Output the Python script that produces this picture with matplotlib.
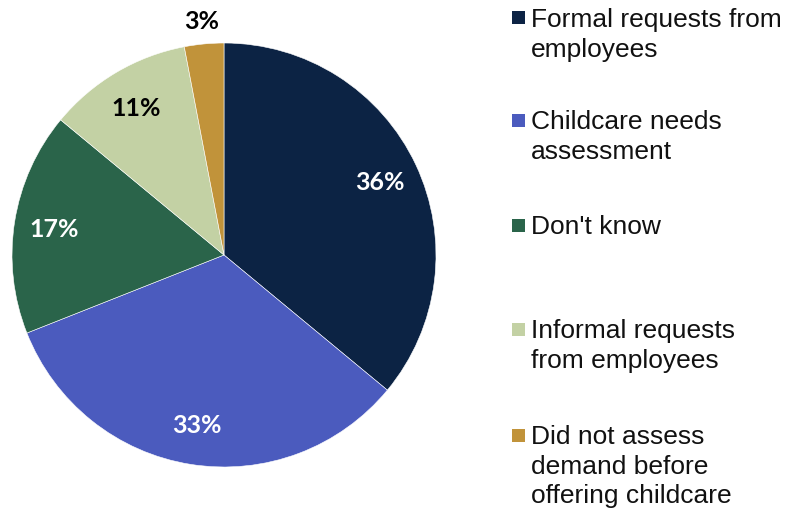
import matplotlib
matplotlib.use("Agg")
import matplotlib.pyplot as plt
import numpy as np
from matplotlib.patches import Rectangle

# ── data ────────────────────────────────────────────────────────────
categories = [
    "Formal requests from\nemployees",
    "Childcare needs\nassessment",
    "Don't know",
    "Informal requests\nfrom employees",
    "Did not assess\ndemand before\noffering childcare",
]
shares = [36, 33, 17, 11, 3]
colors = ["#0C2344", "#4B5BBE", "#2A644A", "#C3D1A4", "#C1933A"]
label_colors = ["white", "white", "white", "black", "black"]

W, H = 787, 510
fig = plt.figure(figsize=(W / 100, H / 100), dpi=100)
fig.patch.set_facecolor("white")

# pie: centre (224, 256) px, radius 212 px
cx, cy, r = 224, 256, 212
ax = fig.add_axes([(cx - r) / W, (H - cy - r) / H, 2 * r / W, 2 * r / H])
wedges, _ = ax.pie(shares, colors=colors, startangle=90, counterclock=False,
                   radius=1.0, wedgeprops=dict(edgecolor="white", linewidth=0.4))
ax.set_xlim(-1, 1)
ax.set_ylim(-1, 1)
ax.set_aspect("auto")
ax.axis("off")

# percentage labels, small slice pushed outside
for w, v, lc in zip(wedges, shares, label_colors):
    mid = np.deg2rad((w.theta1 + w.theta2) / 2)
    dist = 1.11 if v < 5 else 0.81
    ax.text(dist * np.cos(mid), dist * np.sin(mid), f"{v}%",
            ha="center", va="center", fontsize=18, fontweight="bold",
            family="Lato", color=lc)

# ── legend (pixel coordinates) ──────────────────────────────────────
lax = fig.add_axes([0, 0, 1, 1])
lax.set_xlim(0, W)
lax.set_ylim(H, 0)
lax.axis("off")

item_y = [18.5, 121, 226, 330, 436]
line_h = 29.5
for y, lab, col in zip(item_y, categories, colors):
    lax.add_patch(Rectangle((512, y - 6.5), 13, 13, fc=col, ec="none"))
    for i, line in enumerate(lab.split("\n")):
        lax.text(531, y + 8.5 + i * line_h, line, ha="left", va="baseline",
                 fontsize=19, family="Liberation Sans", color="#111111")

fig.savefig("out.png", dpi=100, facecolor="white")
